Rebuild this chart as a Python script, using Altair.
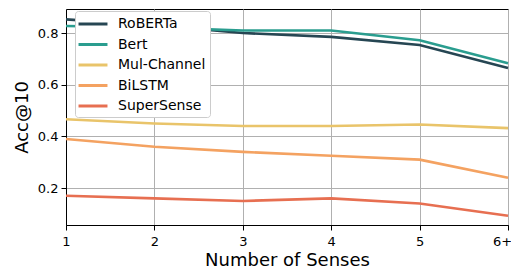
import altair as alt
import pandas as pd

senses = ["1", "2", "3", "4", "5", "6+"]
models = ["RoBERTa", "Bert", "Mul-Channel", "BiLSTM", "SuperSense"]
colors = ["#264653", "#2a9d8f", "#e9c46a", "#f4a261", "#e76f51"]
roberta = [0.853, 0.830, 0.800, 0.785, 0.754, 0.665]
bert = [0.827, 0.822, 0.810, 0.810, 0.772, 0.683]
mulchannel = [0.466, 0.450, 0.440, 0.440, 0.446, 0.432]
bilstm = [0.390, 0.360, 0.340, 0.325, 0.310, 0.240]
supersense = [0.170, 0.160, 0.150, 0.160, 0.140, 0.093]

rows = []
for m, vals in zip(models, [roberta, bert, mulchannel, bilstm, supersense]):
    for s, v in zip(senses, vals):
        rows.append({"Senses": s, "Acc": v, "Model": m})
df = pd.DataFrame(rows)

chart = alt.Chart(df).mark_line(strokeWidth=2.6).encode(
    x=alt.X("Senses:N", sort=senses,
            scale=alt.Scale(type="point", padding=0),
            axis=alt.Axis(title="Number of Senses", labelAngle=0, labelPadding=5,
                          labelOffset={"condition": {"test": "datum.label == '6+'", "value": -6},
                                       "value": 0})),
    y=alt.Y("Acc:Q", scale=alt.Scale(domain=[0.057, 0.893], nice=False, zero=False),
            axis=alt.Axis(title="Acc@10", values=[0.2, 0.4, 0.6, 0.8], format=".1f")),
    color=alt.Color("Model:N", sort=models,
                    scale=alt.Scale(domain=models, range=colors),
                    legend=alt.Legend(title=None, orient="none", legendX=9, legendY=2,
                                      symbolType="M-1.93,0L1.93,0", symbolStrokeWidth=3,
                                      symbolSize=225, labelFontSize=14,
                                      labelFontWeight="normal",
                                      labelFont="DejaVu Sans", rowPadding=4.5,
                                      symbolOffset=5, labelOffset=16,
                                      fillColor="white", strokeColor="#cccccc",
                                      cornerRadius=3, padding=4, labelColor="black")),
    order=alt.Order("order:Q"),
).transform_calculate(
    order="indexof(['SuperSense','BiLSTM','Mul-Channel','Bert','RoBERTa'], datum.Model)"
).properties(
    width=442, height=216,
    autosize=alt.AutoSizeParams(type="none"),
    padding={"left": 58, "top": 1, "right": 3, "bottom": 44},
).configure_axis(
    grid=True, gridColor="#b0b0b0", gridWidth=1,
    domainColor="black", tickColor="black", tickSize=5,
    labelFont="DejaVu Sans", labelFontSize=13, labelColor="black",
    titleFont="DejaVu Sans", titleFontSize=18, titleFontWeight="normal", titleColor="black",
    labelPadding=3,
).configure_axisX(titlePadding=3).configure_axisY(titlePadding=6).configure_view(
    stroke="black", strokeWidth=1
)

chart.save("out.html", embed_options={"renderer": "svg", "actions": False})
